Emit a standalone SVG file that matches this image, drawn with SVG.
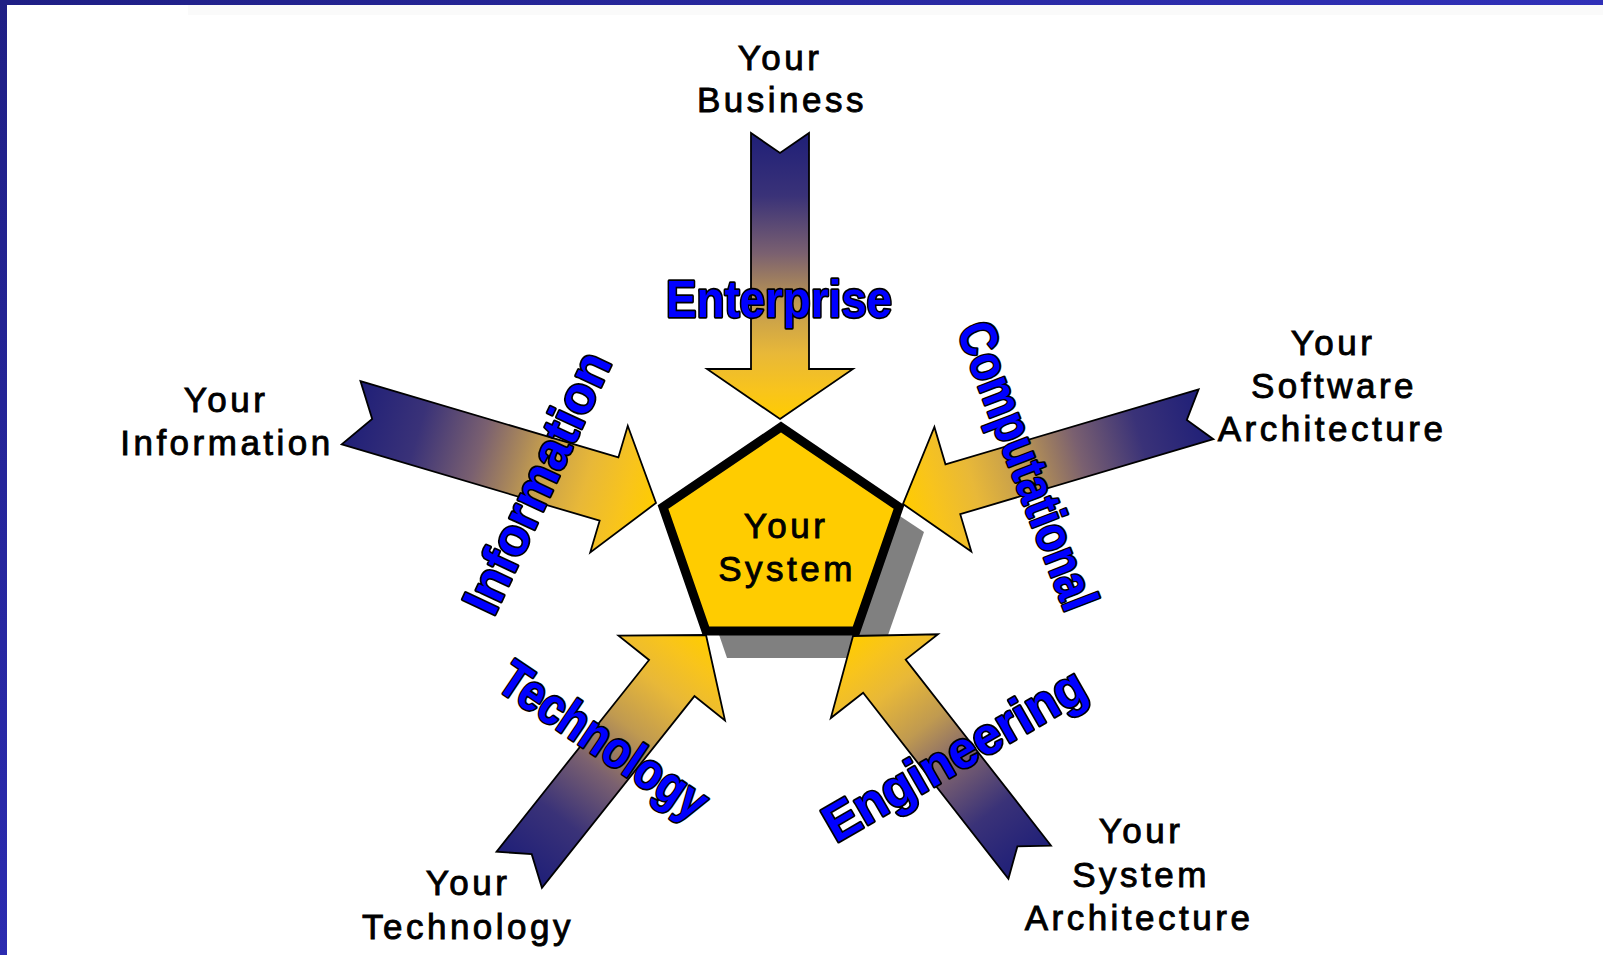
<svg xmlns="http://www.w3.org/2000/svg" width="1603" height="955" viewBox="0 0 1603 955">
<defs>
<linearGradient id="arrowGrad" x1="0" y1="0" x2="1" y2="0">
<stop offset="0" stop-color="#1f1f78"/>
<stop offset="0.22" stop-color="#3a3278"/>
<stop offset="0.42" stop-color="#7a6070"/>
<stop offset="0.6" stop-color="#c09a50"/>
<stop offset="0.77" stop-color="#e8b838"/>
<stop offset="0.9" stop-color="#f8c41c"/>
<stop offset="1" stop-color="#ffcc00"/>
</linearGradient>
<linearGradient id="topBar" x1="0" y1="0" x2="1" y2="0">
<stop offset="0" stop-color="#1f1f85"/>
<stop offset="1" stop-color="#3030b8"/>
</linearGradient>
<linearGradient id="leftBar" x1="0" y1="0" x2="0" y2="1">
<stop offset="0" stop-color="#1f1f85"/>
<stop offset="1" stop-color="#2b2bb0"/>
</linearGradient>
</defs>
<style>
.arrow{fill:url(#arrowGrad);stroke:#000;stroke-width:1.8;stroke-linejoin:miter}
.lbl{font-family:"Liberation Sans",Arial,sans-serif;font-size:35px;letter-spacing:3.5px;fill:#000;stroke:#000;stroke-width:0.9;text-anchor:middle}
.view{font-family:"Liberation Sans",Arial,sans-serif;font-weight:bold;font-size:52px;fill:#0000ff;stroke:#000;stroke-width:3.4;stroke-linejoin:round;paint-order:stroke;text-anchor:middle}
</style>
<rect width="1603" height="955" fill="#ffffff"/>
<rect x="188" y="5" width="1415" height="10" fill="#fafafa"/>
<rect x="0" y="0" width="1603" height="5" fill="url(#topBar)"/>
<rect x="0" y="0" width="7" height="955" fill="url(#leftBar)"/>

<polygon id="shadow" points="803,452 924,532 880,658 727,658 684,532" fill="#808080"/>

<g id="connectors">
<path class="arrow" transform="translate(780,419) rotate(90)" d="M0,0 L-50,-73 L-50,-29 L-286,-29 L-266,0 L-286,29 L-50,29 L-50,73 Z"/>
<path class="arrow" transform="translate(656,503) rotate(16.5)" d="M0,0 L-49,-66 L-49,-33 L-318,-33 L-296,0 L-318,33 L-49,33 L-49,66 Z"/>
<path class="arrow" transform="translate(903,504) rotate(163.5)" d="M0,0 L-52,-65 L-52,-26 L-316,-26 L-296,0 L-316,26 L-52,26 L-52,65 Z"/>
<path class="arrow" transform="translate(706,635) rotate(-51.5)" d="M0,0 L-55,-68 L-55,-29 L-300,-29 L-280,0 L-300,29 L-55,29 L-55,68 Z"/>
<path class="arrow" transform="translate(853,636) rotate(-128)" d="M0,0 L-51,-68 L-51,-27 L-287,-27 L-267,0 L-287,27 L-51,27 L-51,68 Z"/>
<text class="view" x="779" y="317" textLength="226" lengthAdjust="spacingAndGlyphs">Enterprise</text>
<text class="view" transform="translate(553,490) rotate(-65)" x="0" y="0" textLength="282" lengthAdjust="spacingAndGlyphs">Information</text>
<text class="view" transform="translate(1011,472) rotate(69)" x="0" y="0" textLength="304" lengthAdjust="spacingAndGlyphs">Computational</text>
<text class="view" transform="translate(594,755) rotate(34)" x="0" y="0" textLength="240" lengthAdjust="spacingAndGlyphs">Technology</text>
<text class="view" transform="translate(963,770) rotate(-30)" x="0" y="0" textLength="294" lengthAdjust="spacingAndGlyphs">Engineering</text>
</g>

<g id="system">
<polygon points="781,427 899,507 856,631 706,631 663,507" fill="#ffcc00" stroke="#000" stroke-width="9" stroke-linejoin="miter"/>
<text class="lbl" x="786" y="538">Your</text>
<text class="lbl" x="787" y="581">System</text>
</g>

<g id="business">
<text class="lbl" x="780" y="70">Your</text>
<text class="lbl" x="782" y="112">Business</text>
</g>
<g id="information">
<text class="lbl" x="226" y="412">Your</text>
<text class="lbl" x="227" y="455">Information</text>
</g>
<g id="software">
<text class="lbl" x="1333" y="355">Your</text>
<text class="lbl" x="1334" y="398">Software</text>
<text class="lbl" x="1332" y="441">Architecture</text>
</g>
<g id="technology">
<text class="lbl" x="468" y="895">Your</text>
<text class="lbl" x="468" y="939">Technology</text>
</g>
<g id="sysarch">
<text class="lbl" x="1141" y="843">Your</text>
<text class="lbl" x="1141" y="887">System</text>
<text class="lbl" x="1139" y="930">Architecture</text>
</g>
</svg>
